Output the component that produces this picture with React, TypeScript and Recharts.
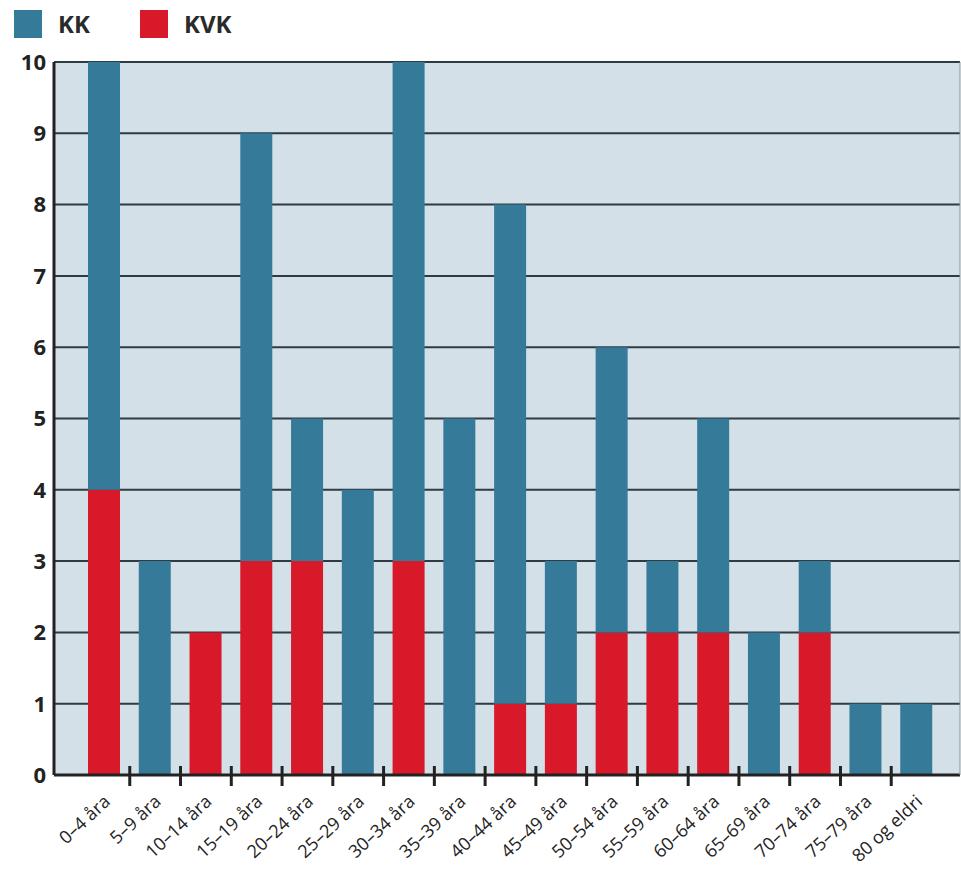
import React from 'react';
import { BarChart, Bar, XAxis, YAxis, CartesianGrid } from 'recharts';

const ageGroups = [
  '0–4 åra', '5–9 åra', '10–14 åra', '15–19 åra', '20–24 åra', '25–29 åra',
  '30–34 åra', '35–39 åra', '40–44 åra', '45–49 åra', '50–54 åra', '55–59 åra',
  '60–64 åra', '65–69 åra', '70–74 åra', '75–79 åra', '80 og eldri',
];
const kvkValues = [4, 0, 2, 3, 3, 0, 3, 0, 1, 1, 2, 2, 2, 0, 2, 0, 0];
const kkValues = [6, 3, 0, 6, 2, 4, 7, 5, 7, 2, 4, 1, 3, 2, 1, 1, 1];
const yTicks = [0, 1, 2, 3, 4, 5, 6, 7, 8, 9, 10];

const BLUE = '#367a99';
const RED = '#d8192a';
const FONT = '"Open Sans", "Noto Sans", sans-serif';

const data = ageGroups.map((name, i) => ({ name, KVK: kvkValues[i], KK: kkValues[i] }));

function AgeTick(props: any) {
  const { x, y, payload, index } = props;
  const half = payload && payload.offset ? payload.offset : 25.4;
  return (
    <g>
      {index > 0 && (
        <line x1={x - half} x2={x - half} y1={y - 17} y2={y + 3} stroke="#222" strokeWidth={3} />
      )}
      <text
        x={x + 7}
        y={y + 20}
        textAnchor="end"
        transform={`rotate(-43, ${x + 7}, ${y + 20})`}
        fontSize={18}
        fill="#222"
        fontFamily={FONT}
      >
        {payload.value}
      </text>
    </g>
  );
}

function LegendItem({ color, label, left }: { color: string; label: string; left: number }) {
  return (
    <div style={{ position: 'absolute', left, top: 7, display: 'flex', alignItems: 'center' }}>
      <div style={{ width: 28, height: 28, background: color }} />
      <span style={{ marginLeft: 16, fontWeight: 700, fontSize: 24, color: '#2a2a2a', fontFamily: FONT }}>
        {label}
      </span>
    </div>
  );
}

export default function App() {
  return (
    <div style={{ position: 'absolute', left: 0, top: 0, width: 961, height: 874, background: '#fff' }}>
      <LegendItem color={BLUE} label="KK" left={14} />
      <LegendItem color={RED} label="KVK" left={140} />
      <BarChart
        width={961}
        height={874}
        data={data}
        margin={{ top: 62, right: 0, bottom: 69, left: 0 }}
        barSize={32}
      >
        <CartesianGrid vertical={false} fill="#d3e0e8" stroke="#2e3b42" strokeWidth={2} />
        <XAxis
          dataKey="name"
          interval={0}
          height={30}
          padding={{ left: 25, right: 18 }}
          tickLine={false}
          axisLine={{ stroke: '#222', strokeWidth: 3 }}
          tick={<AgeTick />}
        />
        <YAxis
          width={54}
          domain={[0, 10]}
          ticks={yTicks}
          tickLine={false}
          axisLine={{ stroke: '#222', strokeWidth: 3 }}
          tick={{ fontSize: 22, fontWeight: 700, fill: '#222', fontFamily: FONT }}
        />
        <YAxis
          yAxisId="r"
          orientation="right"
          width={1}
          domain={[0, 10]}
          tick={false}
          tickLine={false}
          axisLine={{ stroke: '#8a979e', strokeWidth: 1 }}
        />
        <Bar dataKey="KVK" stackId="a" fill={RED} isAnimationActive={false} />
        <Bar dataKey="KK" stackId="a" fill={BLUE} isAnimationActive={false} />
      </BarChart>
    </div>
  );
}
